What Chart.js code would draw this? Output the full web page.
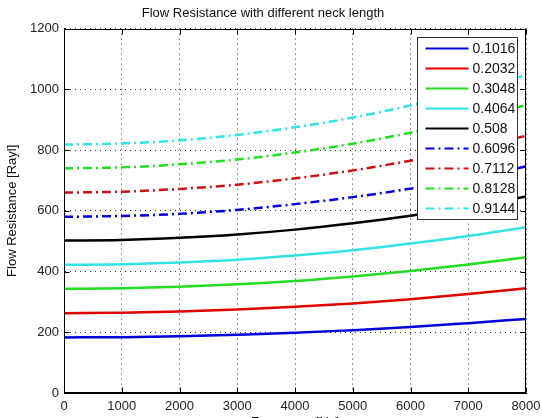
<!DOCTYPE html>
<html>
<head>
<meta charset="utf-8">
<script src="https://cdn.jsdelivr.net/npm/chart.js@4.4.0/dist/chart.umd.min.js"></script>
<style>
    html, body { margin: 0; padding: 0; overflow: hidden; background: #fff; }
    #wrap { width: 542px; height: 432px; }
</style>
</head>
<body>
<div id="wrap"><canvas id="flowChart"></canvas></div>
<script>
// --- Data ---
const frequencies = [0, 1000, 2000, 3000, 4000, 5000, 6000, 7000, 8000];
const neckLengths = ['0.1016', '0.2032', '0.3048', '0.4064', '0.508', '0.6096', '0.7112', '0.8128', '0.9144'];

const res1016 = [183, 184, 187, 192, 198, 207, 217, 230, 244];
const res2032 = [263, 264, 268, 275, 284, 295, 309, 326, 345];
const res3048 = [343, 345, 350, 358, 369, 384, 402, 423, 447];
const res4064 = [422, 424, 430, 439, 453, 470, 492, 517, 546];
const res5080 = [502, 504, 511, 522, 538, 559, 584, 613, 647];
const res6096 = [580, 583, 590, 603, 622, 645, 673, 707, 746];
const res7112 = [660, 663, 672, 686, 707, 733, 765, 803, 847];
const res8128 = [740, 743, 753, 769, 792, 821, 857, 899, 948];
const res9144 = [818, 822, 832, 850, 875, 907, 947, 993, 1047];

const yTicks = [0, 200, 400, 600, 800, 1000, 1200];
const xTicks = [0, 1000, 2000, 3000, 4000, 5000, 6000, 7000, 8000];

// --- Styles (MATLAB-ish colour order) ---
const seriesColors = ['#0000dd', '#e00000', '#22dd22', '#33e3e3', '#000000',
                      '#0000dd', '#c81414', '#22dd22', '#33e3e3'];
const dashDot = [9, 4, 2, 4];
const FONT = '"Liberation Sans", Arial, sans-serif';

const allSeries = [res1016, res2032, res3048, res4064, res5080, res6096, res7112, res8128, res9144];

const datasets = allSeries.map((vals, i) => ({
    label: neckLengths[i],
    data: vals.map((v, j) => ({ x: frequencies[j], y: v })),
    borderColor: seriesColors[i],
    backgroundColor: seriesColors[i],
    borderWidth: 2.5,
    borderDash: i >= 5 ? dashDot : [],
    pointRadius: 0,
    cubicInterpolationMode: 'monotone',
    fill: false
}));

// --- Box frame, inward ticks and boxed legend inside the axes ---
const framePlugin = {
    id: 'matlabFrame',
    afterDatasetsDraw(chart) {
        const { ctx, chartArea: a, scales: { x, y } } = chart;
        const L = Math.round(a.left) + 0.5, R = Math.round(a.right) - 0.5;
        const T = Math.round(a.top) + 0.5, B = Math.round(a.bottom) - 0.5;
        ctx.save();
        ctx.strokeStyle = '#000';
        ctx.lineWidth = 1;
        ctx.setLineDash([]);
        ctx.strokeRect(L, T, R - L, B - T);

        ctx.beginPath();
        xTicks.forEach(t => {
            const px = Math.round(x.getPixelForValue(t)) + 0.5;
            ctx.moveTo(px, B); ctx.lineTo(px, B - 5);
            ctx.moveTo(px, T); ctx.lineTo(px, T + 5);
        });
        yTicks.forEach(t => {
            const py = Math.round(y.getPixelForValue(t)) + 0.5;
            ctx.moveTo(L, py); ctx.lineTo(L + 5, py);
            ctx.moveTo(R, py); ctx.lineTo(R - 5, py);
        });
        ctx.stroke();

        // legend box
        const boxW = 100, boxH = 182;
        const bx = Math.round(a.right) - 9 - boxW + 0.5;
        const by = Math.round(a.top) + 8 + 0.5;
        ctx.fillStyle = '#fff';
        ctx.fillRect(bx, by, boxW, boxH);
        ctx.strokeStyle = '#333';
        ctx.strokeRect(bx, by, boxW, boxH);

        ctx.font = '14px ' + FONT;
        ctx.textBaseline = 'middle';
        ctx.textAlign = 'left';
        chart.data.datasets.forEach((ds, i) => {
            const rowY = by + 11 + i * 20;
            ctx.strokeStyle = ds.borderColor;
            ctx.lineWidth = 2;
            ctx.setLineDash(ds.borderDash);
            ctx.beginPath();
            ctx.moveTo(bx + 8, rowY);
            ctx.lineTo(bx + 51, rowY);
            ctx.stroke();
            ctx.fillStyle = '#111';
            ctx.fillText(ds.label, bx + 55, rowY + 1);
        });
        ctx.restore();
    }
};

const plainNumber = v => String(v);

const ctx = document.getElementById('flowChart').getContext('2d');
new Chart(ctx, {
    type: 'line',
    data: { datasets },
    plugins: [framePlugin],
    options: {
        responsive: true,
        maintainAspectRatio: false,
        animation: false,
        layout: { padding: { left: 0, right: 16, top: 0, bottom: 0 } },
        plugins: {
            legend: { display: false },
            tooltip: { enabled: false },
            title: {
                display: true,
                text: 'Flow Resistance with different neck length',
                color: '#111',
                font: { family: FONT, size: 13, weight: 'normal' },
                padding: { top: 6, bottom: 7 }
            }
        },
        scales: {
            x: {
                type: 'linear',
                min: 0,
                max: 8000,
                afterBuildTicks: scale => { scale.ticks = xTicks.map(v => ({ value: v })); },
                afterFit: scale => {
                    scale.height = 39;
                    scale.paddingLeft = 0;
                    scale.paddingRight = 0;
                },
                ticks: { color: '#222', padding: 6, font: { family: FONT, size: 13 }, callback: plainNumber },
                grid: { color: 'rgba(0,0,0,0.8)', lineWidth: 1, drawTicks: false },
                border: { display: true, color: '#000', dash: [1, 4] },
                title: {
                    display: true,
                    text: 'Frequency [Hz]',
                    color: '#111',
                    font: { family: FONT, size: 13 },
                    padding: { top: 0, bottom: 2 }
                }
            },
            y: {
                min: 0,
                max: 1200,
                afterBuildTicks: scale => { scale.ticks = yTicks.map(v => ({ value: v })); },
                afterFit: scale => { scale.width = 64; },
                ticks: { color: '#222', padding: 5, font: { family: FONT, size: 13 }, callback: plainNumber },
                grid: { color: 'rgba(0,0,0,0.8)', lineWidth: 1, drawTicks: false },
                border: { display: true, color: '#000', dash: [1, 4] },
                title: {
                    display: true,
                    text: 'Flow Resistance [Rayl]',
                    color: '#111',
                    font: { family: FONT, size: 13 },
                    padding: { top: 5, bottom: 0 }
                }
            }
        }
    }
});
</script>
</body>
</html>
